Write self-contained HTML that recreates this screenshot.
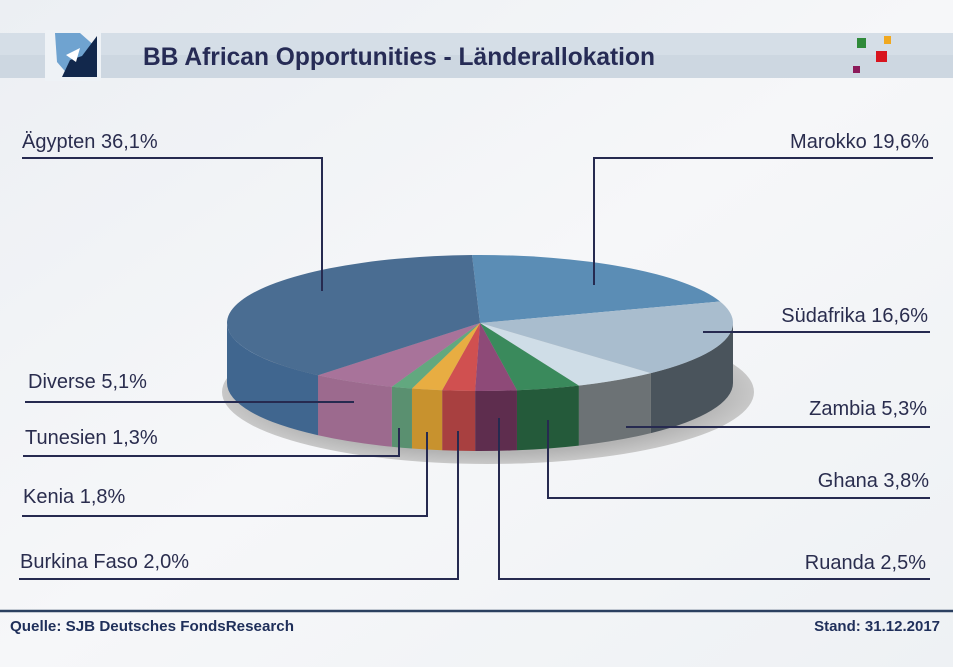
<!DOCTYPE html>
<html><head><meta charset="utf-8"><style>
html,body{margin:0;padding:0;width:953px;height:667px;overflow:hidden;background:#f3f5f8}
svg{display:block}
</style></head><body>
<svg id="s" width="953" height="667" viewBox="0 0 953 667" xmlns="http://www.w3.org/2000/svg">
<defs>
<linearGradient id="bg" x1="0" y1="0" x2="1" y2="1">
<stop offset="0" stop-color="#eceff3"/><stop offset="0.5" stop-color="#f6f7f9"/><stop offset="1" stop-color="#eef1f4"/></linearGradient>
<radialGradient id="sh" cx="0.5" cy="0.5" r="0.5"><stop offset="0.85" stop-color="#b4b4b4"/><stop offset="1" stop-color="#c8c8c8"/></radialGradient>
</defs>
<rect width="953" height="667" fill="url(#bg)"/>
<rect x="0" y="33" width="953" height="45" fill="#d5dee7"/>
<rect x="0" y="55" width="953" height="23" fill="#cdd7e1"/>
<rect x="45" y="30" width="56" height="51" fill="#eef2f6"/>
<polygon points="55,33 80,33 97,48 96,77 70,77 57,62" fill="#6fa3d0"/>
<polygon points="97,36 97,77 62,77 70,60 82,56" fill="#12284c"/>
<polygon points="66,55 80,48 76,62" fill="#ffffff"/>
<text x="143" y="65" font-family="Liberation Sans, sans-serif" font-weight="bold" font-size="25" fill="#262b55" textLength="512" lengthAdjust="spacingAndGlyphs">BB African Opportunities - Länderallokation</text>
<rect x="857" y="38" width="9" height="10" fill="#2f8a3a"/>
<rect x="884" y="36" width="7" height="8" fill="#f0a820"/>
<rect x="876" y="51" width="11" height="11" fill="#d8141e"/>
<rect x="853" y="66" width="7" height="7" fill="#8c1a5a"/>
<ellipse cx="488" cy="392" rx="266" ry="72" fill="url(#sh)"/>
<g id="pie"></g>
<g stroke="#262a50" stroke-width="2" fill="none">
<polyline points="22,158 322,158 322,291"/>
<polyline points="933,158 594,158 594,285"/>
<polyline points="930,332 703,332"/>
<polyline points="930,427 626,427"/>
<polyline points="930,498 548,498 548,420"/>
<polyline points="930,579 499,579 499,418"/>
<polyline points="25,402 354,402"/>
<polyline points="23,456 399,456 399,428"/>
<polyline points="22,516 427,516 427,432"/>
<polyline points="19,579 458,579 458,431"/>
</g>
<g font-family="Liberation Sans, sans-serif" font-size="20" fill="#2a2d4e">
<text x="22" y="148">Ägypten 36,1%</text>
<text x="28" y="388">Diverse 5,1%</text>
<text x="25" y="444">Tunesien 1,3%</text>
<text x="23" y="503">Kenia 1,8%</text>
<text x="20" y="568">Burkina Faso 2,0%</text>
<g text-anchor="end">
<text x="929" y="148">Marokko 19,6%</text>
<text x="928" y="322">Südafrika 16,6%</text>
<text x="927" y="415">Zambia 5,3%</text>
<text x="929" y="487">Ghana 3,8%</text>
<text x="926" y="569">Ruanda 2,5%</text>
</g></g>
<line x1="0" y1="611" x2="953" y2="611" stroke="#2b4060" stroke-width="2.5"/>
<g font-family="Liberation Sans, sans-serif" font-weight="bold" font-size="15" fill="#1f2f5a">
<text x="10" y="631" textLength="284" lengthAdjust="spacingAndGlyphs">Quelle: SJB Deutsches FondsResearch</text>
<text x="940" y="631" text-anchor="end">Stand: 31.12.2017</text>
</g>
</svg>
<script>
(function(){
var cx=480,cy=323,rx=253,ry=68,d=60;
var b=[-1.8,71.6,137.5,157,171.6,181.1,188.6,195.6,200.4,219.8,358.2];
var topc=["#5b8db5","#a9bdce","#cfdde7","#3a8a5c","#8e4a78","#d05050","#e8ad42","#62a87f","#a8739a","#4a6d92"];
var sidec=["#4f7ea6","#4a545c","#6c7275","#245a3a","#5e2d4e","#a84040","#c8922e","#5a9070","#9c6a8e","#40668f"];
function P(t,dy){t=t*Math.PI/180;return (cx+rx*Math.sin(t)).toFixed(2)+','+(cy-ry*Math.cos(t)+(dy||0)).toFixed(2);}
var g=document.getElementById('pie'),h='';
for(var i=0;i<10;i++){
 var a1=Math.max(b[i],90),a2=Math.min(b[i+1],270);
 if(a2<=a1)continue;
 h+='<path d="M'+P(a1)+' A'+rx+' '+ry+' 0 0 1 '+P(a2)+' L'+P(a2,d)+' A'+rx+' '+ry+' 0 0 0 '+P(a1,d)+' Z" fill="'+sidec[i]+'"/>';
}
for(var i=0;i<10;i++){
 var lg=(b[i+1]-b[i])>180?1:0;
 h+='<path d="M'+cx+','+cy+' L'+P(b[i])+' A'+rx+' '+ry+' 0 '+lg+' 1 '+P(b[i+1])+' Z" fill="'+topc[i]+'"/>';
}
g.innerHTML=h;
})();
</script>
</body></html>
